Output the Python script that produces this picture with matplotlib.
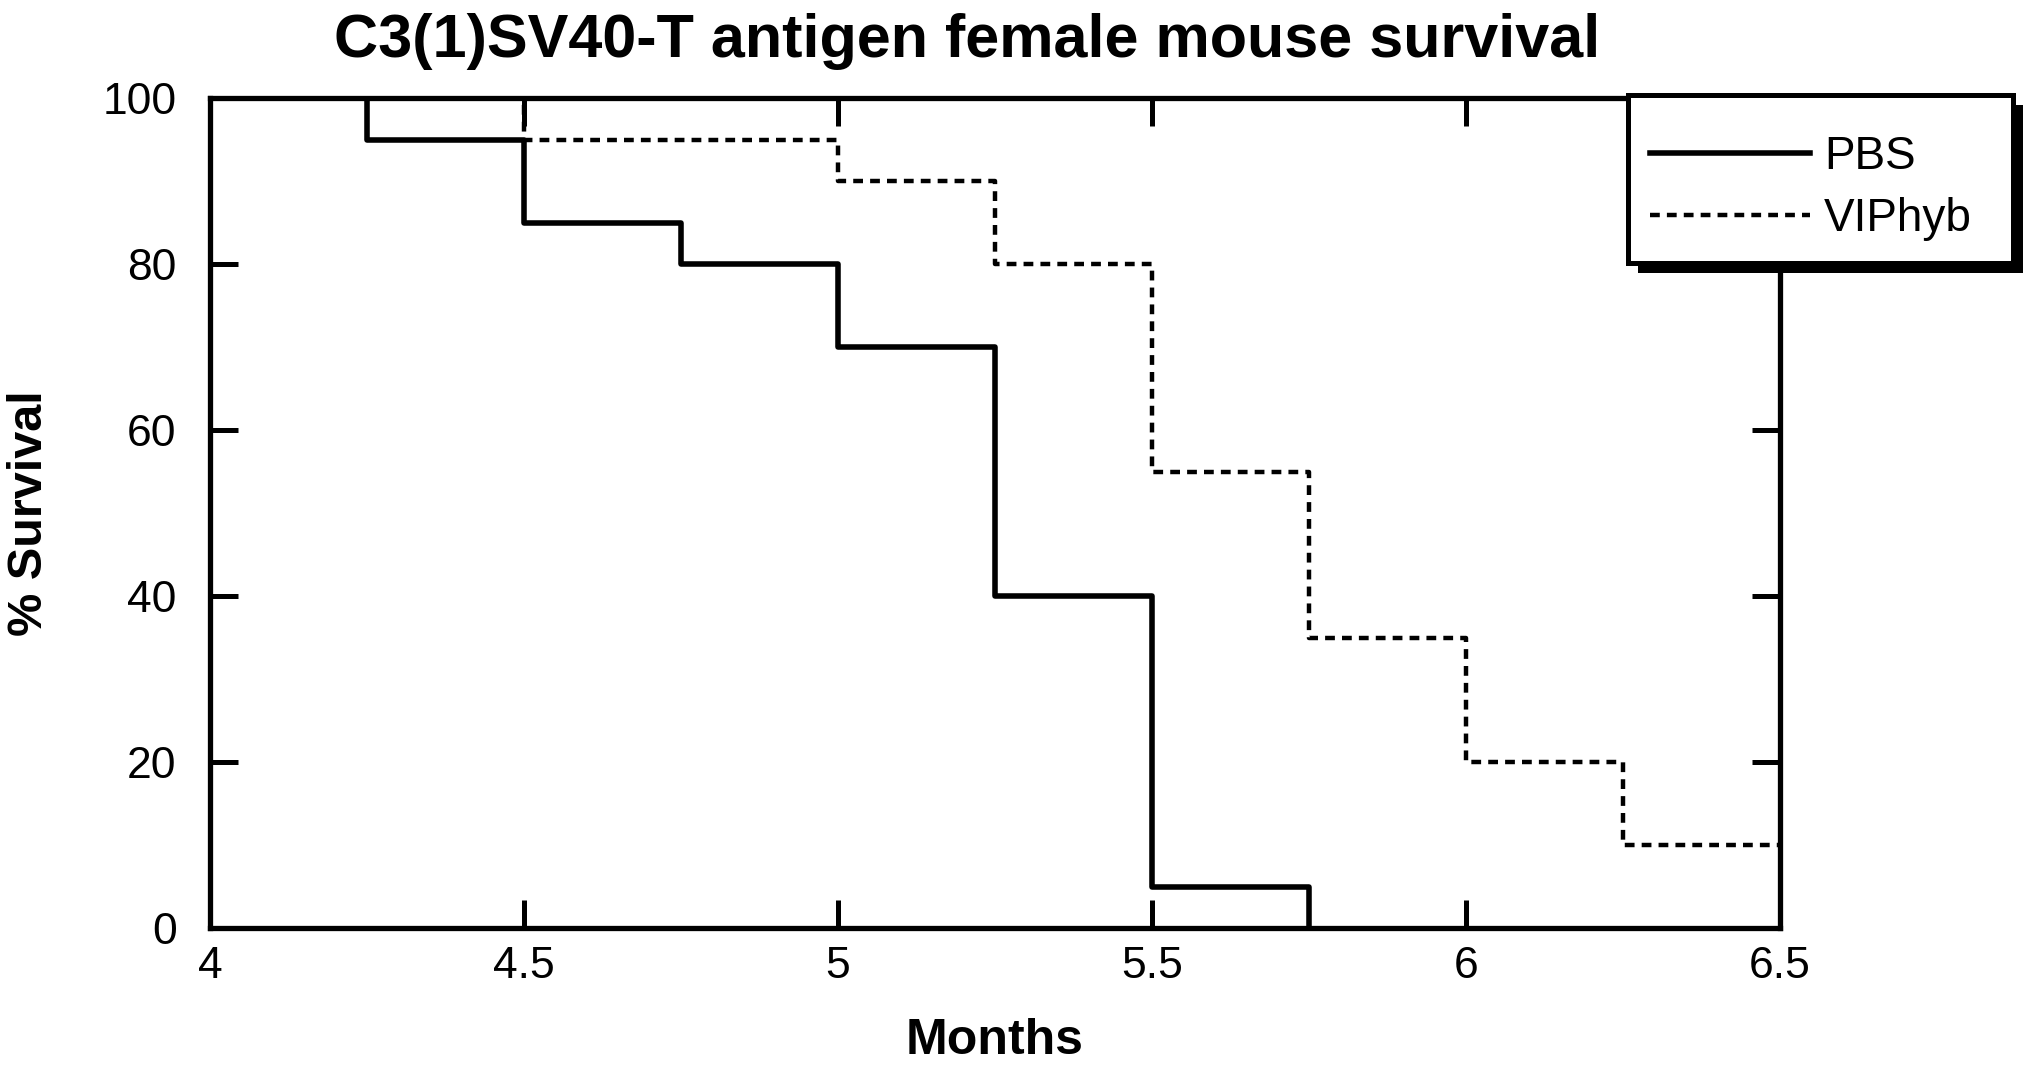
import matplotlib
matplotlib.use("Agg")
from matplotlib import pyplot as plt
from matplotlib.patches import Rectangle

# survival data (months, % survival)
pbs_months = [4.0, 4.25, 4.5, 4.75, 5.0, 5.25, 5.5, 5.75]
pbs_surv = [100, 95, 85, 80, 70, 40, 5, 0]
vip_months = [4.0, 4.5, 5.0, 5.25, 5.5, 5.75, 6.0, 6.25, 6.5]
vip_surv = [100, 95, 90, 80, 55, 35, 20, 10, 10]

xticks = [4, 4.5, 5, 5.5, 6, 6.5]
xticklabels = ['4', '4.5', '5', '5.5', '6', '6.5']
yticks = [0, 20, 40, 60, 80, 100]

plt.rcParams['font.family'] = 'Liberation Sans'

fig = plt.figure(figsize=(20.4, 10.75), dpi=100)
ax = fig.add_axes([0.1029, 0.1367, 0.7696, 0.7721])

ax.step(pbs_months, pbs_surv, where='post', color='black', lw=4.0, label='PBS')
ax.step(vip_months, vip_surv, where='post', color='black', lw=3.2,
        linestyle=(0, (2.2, 1.6)), label='VIPhyb')

ax.set_xlim(4, 6.5)
ax.set_ylim(0, 100)
ax.set_xticks(xticks)
ax.set_xticklabels(xticklabels)
ax.set_yticks(yticks)
ax.tick_params(direction='in', length=20, width=3.6, labelsize=32, top=True, right=True)
ax.tick_params(axis='x', pad=13)
ax.tick_params(axis='y', pad=24)
for s in ax.spines.values():
    s.set_linewidth(3.8)

ax.set_xlabel('Months', fontsize=36, fontweight='bold', labelpad=22)
ax.set_ylabel('% Survival', fontsize=35, fontweight='bold', labelpad=36)
fig.text(0.474, 0.961, 'C3(1)SV40-T antigen female mouse survival',
         fontsize=44, fontweight='bold', ha='center', va='center')

# legend box stretched to the reference width; tiny blank title pushes entries down
lx0, lx1, ltop = 1628 / 2040, 2013 / 2040, 1 - 95 / 1075
leg = ax.legend(loc='upper left', bbox_to_anchor=(lx0, 0.5, lx1 - lx0, ltop - 0.5),
                bbox_transform=fig.transFigure, mode='expand', fontsize=33,
                frameon=True, fancybox=False, handlelength=3.5, borderpad=0.48,
                labelspacing=0.38, handletextpad=0.3, borderaxespad=0,
                title=' ', title_fontsize=1)
leg.get_frame().set_edgecolor('black')
leg.get_frame().set_linewidth(3.6)
leg.get_frame().set_alpha(1)
leg.set_zorder(10)

# shadow behind the legend box
fig.canvas.draw()
bb = leg.get_window_extent()
shadow = Rectangle((bb.x0 + 10, bb.y0 - 10), bb.width, bb.height,
                   transform=None, facecolor='black', edgecolor='none',
                   zorder=9, clip_on=False)
ax.add_artist(shadow)

fig.savefig('out.png', dpi=100)
